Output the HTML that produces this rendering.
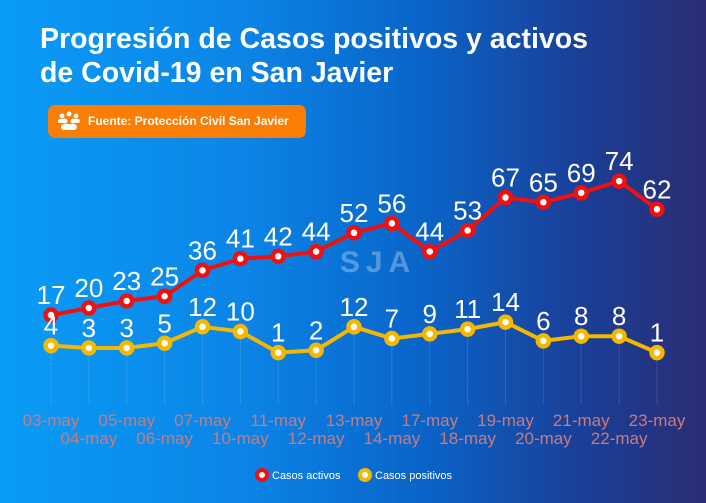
<!DOCTYPE html>
<html><head><meta charset="utf-8"><style>
body{margin:0;width:706px;height:503px;overflow:hidden;font-family:"Liberation Sans",sans-serif}
#bg{position:absolute;left:0;top:0;width:706px;height:503px;background:linear-gradient(90deg,#0a9cf6 0%,#0b84e6 35%,#0a64c8 60%,#1a3f98 82%,#2a2d74 100%)}
h1{position:absolute;left:40px;top:22px;margin:0;color:#fff;font-size:28.5px;line-height:34px;font-weight:bold}
#src{position:absolute;left:48px;top:105px;width:258px;height:33px;background:#fb7d06;border-radius:7px;color:#fff;font-size:12px;font-weight:bold;line-height:33px}
</style></head><body>
<div id="bg"></div>
<h1>Progresión de Casos positivos y activos<br>de Covid-19 en San Javier</h1>
<div id="src">
<svg width="30" height="33" style="position:absolute;left:6px;top:0"><g fill="#fff"><circle cx="8" cy="11" r="2.5"/><circle cx="15" cy="9" r="2.5"/><circle cx="22" cy="11" r="2.5"/><circle cx="11" cy="16" r="2.5"/><circle cx="19" cy="16" r="2.5"/><rect x="4" y="14" width="8" height="4" rx="2"/><rect x="18" y="14" width="8" height="4" rx="2"/><rect x="7" y="19" width="16" height="6" rx="3"/></g></svg>
<span style="position:absolute;left:40px">Fuente: Protección Civil San Javier</span></div>
<svg id="chart" width="706" height="503" style="position:absolute;left:0;top:0"></svg>
<script>
const categories=["03-may","04-may","05-may","06-may","07-may","10-may","11-may","12-may","13-may","14-may","17-may","18-may","19-may","20-may","21-may","22-may","23-may"];
const activos=[17,20,23,25,36,41,42,44,52,56,44,53,67,65,69,74,62];
const positivos=[4,3,3,5,12,10,1,2,12,7,9,11,14,6,8,8,1];
const NS="http://www.w3.org/2000/svg";
const svg=document.getElementById('chart');
const x0=51,x1=657;
function xs(i){return x0+i*(x1-x0)/(categories.length-1);}
function ys(v){return 355-v*2.35;}
function mk(t,a,p){const e=document.createElementNS(NS,t);for(const k in a)e.setAttribute(k,a[k]);(p||svg).appendChild(e);return e;}
const wm=mk('text',{x:378,y:272,'text-anchor':'middle','font-size':30,'font-weight':'bold',fill:'rgba(255,255,255,0.3)','letter-spacing':'6'});
wm.textContent='SJA';


categories.forEach((c,i)=>{
  const g=mk('line',{x1:xs(i),x2:xs(i),y1:Math.max(ys(activos[i]),ys(positivos[i])),y2:405,stroke:'rgba(255,255,255,0.12)','stroke-width':1});
  
  
  const t=mk('text',{x:xs(i),y:i%2?444:426,'text-anchor':'middle','font-size':17,fill:'#c97b7e'});
  t.textContent=c;
  
  
});
function series(vals,color,name){
  const p=mk('polyline',{points:vals.map((v,i)=>xs(i)+','+ys(v)).join(' '),fill:'none',stroke:color,'stroke-width':4,'stroke-linejoin':'round'});
  
  
  vals.forEach((v,i)=>{
    const c=mk('circle',{cx:xs(i),cy:ys(v),r:5.5,fill:'#fff',stroke:color,'stroke-width':4.5});
    
    
    const t=mk('text',{x:xs(i),y:ys(v)-11,'text-anchor':'middle','font-size':26,fill:'#fff'});
    t.textContent=v;
    
    
  });
}
series(activos,'#f01010','activos');
series(positivos,'#f5b800','positivos');
const leg=[['Casos activos','#f01010',262],['Casos positivos','#f5b800',365]];
leg.forEach(l=>{
  const c=mk('circle',{cx:l[2],cy:475,r:5,fill:'#fff',stroke:l[1],'stroke-width':4});
  
  
  const t=mk('text',{x:l[2]+10,y:479,'font-size':11,fill:'#fff'});
  t.textContent=l[0];
  
  
});
</script>
</body></html>
